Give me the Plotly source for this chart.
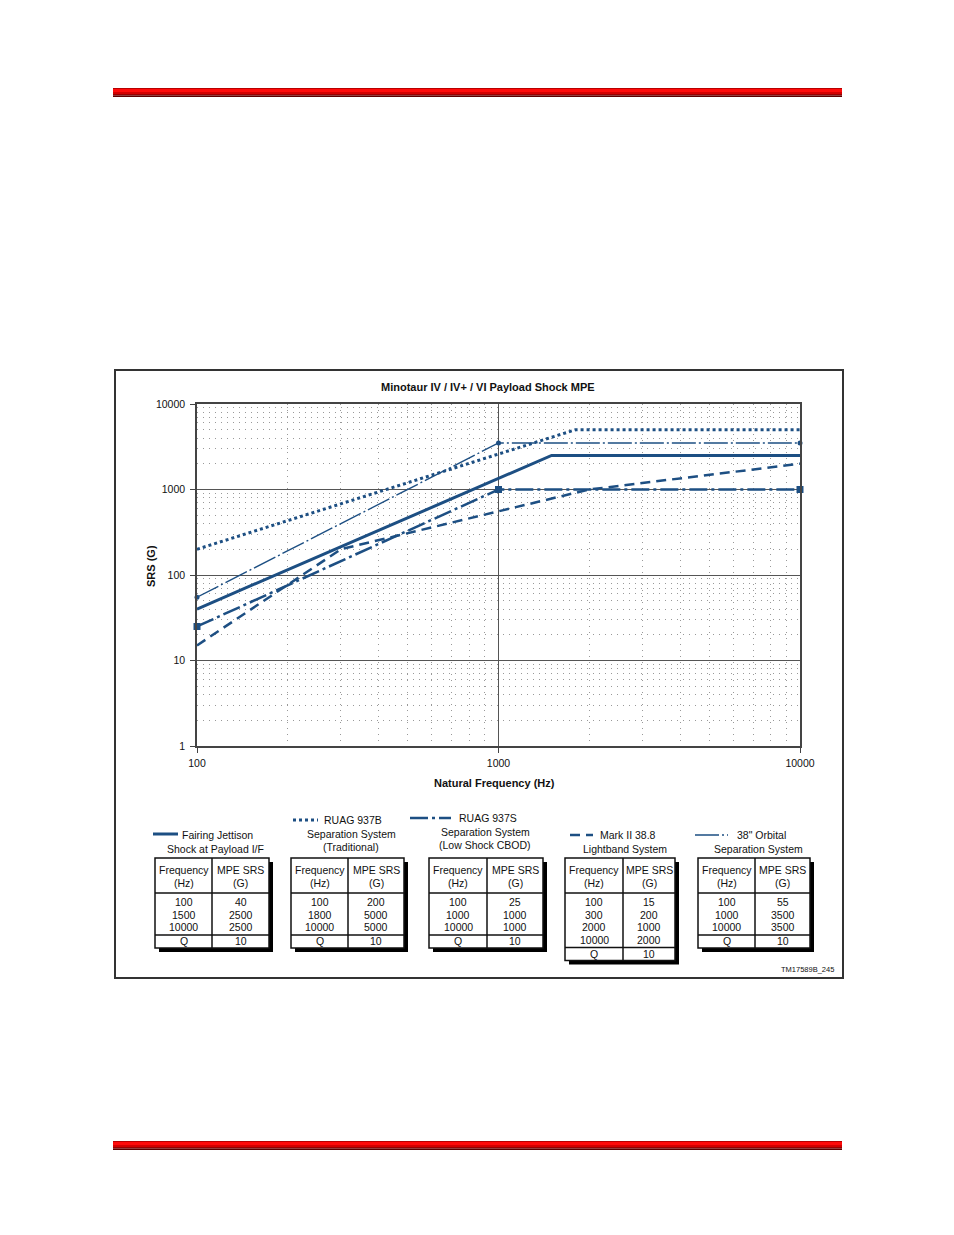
import plotly.graph_objects as go

W, H = 954, 1235
OFF = 8  # default page body margin offsets the figure by this much
FONT = "Liberation Sans, Arial, sans-serif"
BLUE = "#1d4f83"
INK = "#111111"
FS = 10.5

# ---------------- data ----------------
title = "Minotaur IV / IV+ / VI Payload Shock MPE"
x_title = "Natural Frequency (Hz)"
y_title = "SRS (G)"
x_ticks = [100, 1000, 10000]
y_ticks = [1, 10, 100, 1000, 10000]

fairing_freq = [100, 1500, 10000]
fairing_srs = [40, 2500, 2500]
ruag937b_freq = [100, 1800, 10000]
ruag937b_srs = [200, 5000, 5000]
ruag937s_freq = [100, 1000, 10000]
ruag937s_srs = [25, 1000, 1000]
mark2_freq = [100, 300, 2000, 10000]
mark2_srs = [15, 200, 1000, 2000]
orbital_freq = [100, 1000, 10000]
orbital_srs = [55, 3500, 3500]
q_values = [10, 10, 10, 10, 10]

legend_titles = [
    ["Fairing Jettison", "Shock at Payload I/F"],
    ["RUAG 937B", "Separation System", "(Traditional)"],
    ["RUAG 937S", "Separation System", "(Low Shock CBOD)"],
    ["Mark II 38.8", "Lightband System"],
    ["38\" Orbital", "Separation System"],
]
header_cols = [["Frequency", "(Hz)"], ["MPE SRS", "(G)"]]
figure_id = "TM17589B_245"


def X(p):
    return (p - OFF) / W


def Y(p):
    return 1 - (p - OFF) / H


shapes = []
annotations = []


def rect(x0, y0, x1, y1, fill=None, color=None, width=0):
    shapes.append(dict(type="rect", xref="paper", yref="paper", layer="above",
                       x0=X(x0), x1=X(x1), y0=Y(y0), y1=Y(y1),
                       fillcolor=fill if fill else "rgba(0,0,0,0)",
                       line=dict(color=color if color else "rgba(0,0,0,0)", width=width)))


def hline(x0, x1, y, color=INK, width=1, dash="solid"):
    shapes.append(dict(type="line", xref="paper", yref="paper", layer="above",
                       x0=X(x0), x1=X(x1), y0=Y(y), y1=Y(y),
                       line=dict(color=color, width=width, dash=dash)))


def vline(x, y0, y1, color=INK, width=1):
    shapes.append(dict(type="line", xref="paper", yref="paper", layer="above",
                       x0=X(x), x1=X(x), y0=Y(y0), y1=Y(y1),
                       line=dict(color=color, width=width)))


def text(x, y, s, size=FS, anchor="center", bold=False, color=INK, angle=0):
    annotations.append(dict(xref="paper", yref="paper", x=X(x), y=Y(y),
                            text=f"<b>{s}</b>" if bold else s, showarrow=False,
                            xanchor=anchor, yanchor="middle", textangle=angle,
                            font=dict(family=FONT, size=size, color=color)))


# ---------------- page decorations ----------------
def red_bar(top):
    strips = [(0, 1, "#b80000"), (1, 4, "#ff0a0a"), (4, 6, "#d40000"),
              (6, 7.5, "#9a0000"), (7.5, 9, "#5c0000")]
    for a, b, c in strips:
        rect(113, top + a, 842, top + b, fill=c)


red_bar(88)
red_bar(1141)

# chart frame
rect(115, 370, 843, 978, color="#333333", width=2)

# ---------------- traces ----------------
series = [
    dict(name="Fairing Jettison", x=fairing_freq, y=fairing_srs, dash="solid", width=3,
         marker=None),
    dict(name="RUAG 937B", x=ruag937b_freq, y=ruag937b_srs, dash="3px,3px", width=3,
         marker=None),
    dict(name="RUAG 937S", x=ruag937s_freq, y=ruag937s_srs, dash="18px,4px,3px,4px",
         width=2.5, marker=dict(symbol="square", size=7)),
    dict(name="Mark II 38.8", x=mark2_freq, y=mark2_srs, dash="10px,6px", width=2.5,
         marker=None),
    dict(name="38\" Orbital", x=orbital_freq, y=orbital_srs, dash="24px,3px,2px,3px",
         width=1.4, marker=dict(symbol="circle", size=5)),
]

fig = go.Figure()
for s in series:
    fig.add_trace(go.Scatter(
        x=s["x"], y=s["y"], name=s["name"],
        mode="lines+markers" if s["marker"] else "lines",
        line=dict(color=BLUE, width=s["width"], dash=s["dash"]),
        marker=dict(color=BLUE, **s["marker"]) if s["marker"] else None,
        cliponaxis=False, showlegend=False,
    ))

# ---------------- axis titles ----------------
text(488, 387, title, size=11, bold=True)
text(495, 783, x_title, size=11, bold=True)
text(151, 566, y_title, size=11, bold=True, angle=-90)

# ---------------- tables ----------------
table_x = [(155, 212, 269), (291, 348, 404), (429, 487, 543), (565, 623, 675), (698, 755, 810)]
table_data = [
    (fairing_freq, fairing_srs),
    (ruag937b_freq, ruag937b_srs),
    (ruag937s_freq, ruag937s_srs),
    (mark2_freq, mark2_srs),
    (orbital_freq, orbital_srs),
]

TOP, HEAD = 858, 893
ROW0, STEP = 902, 12.5
for i, ((x0, xd, x1), (fq, sr)) in enumerate(zip(table_x, table_data)):
    n = len(fq)
    qline = ROW0 + n * STEP - 4.5
    bottom = qline + 13
    rect(x0 + 4, TOP + 4, x1 + 4, bottom + 4, fill="#000000")
    rect(x0, TOP, x1, bottom, fill="#ffffff", color=INK, width=1.5)
    vline(xd, TOP, bottom, width=1.5)
    hline(x0, x1, HEAD, width=1.5)
    hline(x0, x1, qline, width=1.5)
    c1 = (x0 + xd) / 2
    c2 = (xd + x1) / 2
    text(c1, 870, header_cols[0][0])
    text(c1, 883, header_cols[0][1])
    text(c2, 870, header_cols[1][0])
    text(c2, 883, header_cols[1][1])
    for r in range(n):
        yy = ROW0 + r * STEP
        text(c1, yy, str(fq[r]))
        text(c2, yy, str(sr[r]))
    text(c1, qline + 6, "Q")
    text(c2, qline + 6, str(q_values[i]))

# ---------------- legend labels above tables ----------------
legend_pos = [
    (153, 178, 834, 180, 215, 835),
    (293, 318, 820, 322, 351, 820),
    (410, 451, 818, 457, 485, 818),
    (570, 593, 835, 598, 625, 835),
    (695, 728, 835, 735, 758, 835),
]
for s, lt, (sx0, sx1, sy, lx, cx, ly) in zip(series, legend_titles, legend_pos):
    hline(sx0, sx1, sy, color=BLUE, width=s["width"], dash=s["dash"])
    text(lx, ly, lt[0], anchor="left")
    for k, line in enumerate(lt[1:]):
        text(cx, ly + 13.5 * (k + 1), line)

text(836, 969, figure_id, size=7.5, anchor="right")

# ---------------- layout ----------------
axis_common = dict(
    type="log", showline=True, mirror=True, linecolor="#444444", linewidth=1.5,
    showgrid=True, gridcolor="#555555", gridwidth=1,
    ticks="outside", ticklen=5, tickcolor="#444444", tickwidth=1,
    tickfont=dict(family=FONT, size=FS, color=INK),
    minor=dict(dtick="D1", showgrid=True, gridcolor="#999999", griddash="1px,5px",
               gridwidth=1, ticks=""),
    zeroline=False, automargin=False,
)

fig.update_layout(
    width=W, height=H,
    margin=dict(l=0, r=0, t=0, b=0, pad=0, autoexpand=False),
    paper_bgcolor="#ffffff", plot_bgcolor="#ffffff",
    showlegend=False,
    xaxis=dict(domain=[X(197), X(800)], range=[2, 4], tickvals=x_ticks,
               ticktext=[str(v) for v in x_ticks], ticklabelstandoff=2, **axis_common),
    yaxis=dict(domain=[Y(746), Y(404)], range=[0, 4], tickvals=y_ticks,
               ticktext=[str(v) for v in y_ticks], ticklabelstandoff=3, **axis_common),
    shapes=shapes,
    annotations=annotations,
)

fig.write_html("out.html")
